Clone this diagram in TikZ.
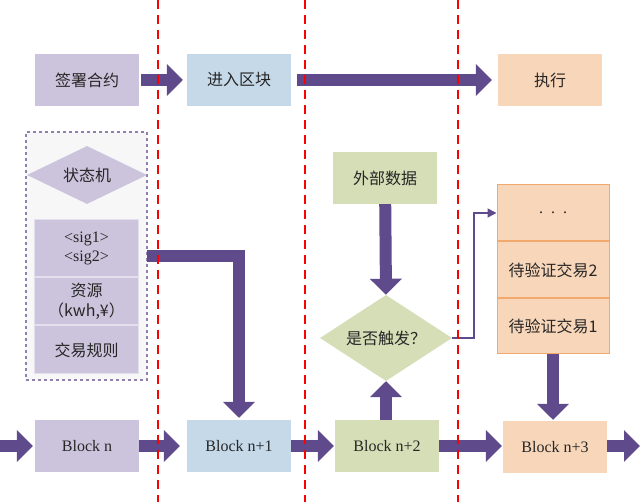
\documentclass[tikz,border=0pt]{standalone}
\usepackage{fontspec}
\setmainfont{Liberation Serif}
\newfontfamily\cjk{Noto Sans CJK SC}
\usetikzlibrary{arrows.meta,shapes.geometric,positioning}
\definecolor{lilac}{HTML}{CCC4DC}
\definecolor{skyblue}{HTML}{C5D9E9}
\definecolor{sage}{HTML}{D5DEB6}
\definecolor{peach}{HTML}{F8D6B9}
\definecolor{peachline}{HTML}{F2A96E}
\definecolor{arrowpurple}{HTML}{5F4A8B}
\definecolor{txt}{HTML}{262626}
\tikzset{
  box/.style={minimum width=104pt, minimum height=52pt, inner sep=0pt, text=txt,
    font=\fontsize{16}{19}\selectfont, align=center},
  zh/.style={font=\fontsize{16}{20}\selectfont\cjk},
  cell/.style={box, minimum height=#1, line width=1pt},
  bigarrow/.style={line width=12pt, draw=arrowpurple, -{Triangle[width=31pt,length=16pt]}},
  thinarrow/.style={line width=1.5pt, draw=arrowpurple, -{Triangle[width=9pt,length=9pt]}},
  lane/.style={draw=red, line width=1.5pt, dash pattern=on 9pt off 6pt}
}
\begin{document}
\begin{tikzpicture}[x=1pt, y=-1pt]
\fill[white] (0,0) rectangle (640,502);
\useasboundingbox (0,0) rectangle (640,502);

% top row
\node[box, zh, fill=lilac] (sign) at (87,80) {签署合约};
\node[box, zh, fill=skyblue] (enter) at (239,80) {进入区块};
\node[box, zh, fill=peach] (exec) at (550,80) {执行};

% state machine
\node[draw=arrowpurple!70, dashed, line width=1.2pt, fill=black!3, minimum width=121pt, minimum height=248pt] (sm) at (86.5,256) {};
\node[diamond, fill=lilac, minimum width=120pt, minimum height=58pt, inner sep=0pt, aspect=2, text=txt, zh] (fsm) at (87,175) {状态机};
\node[cell=57pt, fill=lilac, draw=lilac!55!white] (sig) at (86.5,248.5) {<sig1>\\<sig2>};
\node[cell=47pt, zh, fill=lilac, draw=lilac!55!white, below=0pt of sig] (res) {资源\\（kwh,¥）};
\node[cell=48pt, zh, fill=lilac, draw=lilac!55!white, below=0pt of res] (rule) {交易规则};
\coordinate (sigout) at (147,256);

% trigger
\node[box, zh, fill=sage] (ext) at (385,178) {外部数据};
\node[diamond, fill=sage, minimum width=132pt, minimum height=86pt, inner sep=0pt, aspect=2, text=txt, zh] (trig) at (386,338) {是否触发？};
\coordinate (bend) at (474,338);

% pending transactions
\node[cell=56pt, minimum width=112pt, fill=peach, draw=peachline] (dots) at (553,213) {.\ \ .\ \ .};
\node[cell=56pt, zh, minimum width=112pt, fill=peach, draw=peachline, below=0pt of dots] (tx2) {待验证交易2};
\node[cell=55pt, zh, minimum width=112pt, fill=peach, draw=peachline, below=0pt of tx2] (tx1) {待验证交易1};

% chain
\coordinate (chainin) at (0,446);
\node[box, fill=lilac] (bn) at (87,446) {Block n};
\node[box, fill=skyblue] (bn1) at (239,446) {Block n+1};
\node[box, fill=sage] (bn2) at (387,446) {Block n+2};
\node[box, fill=peach] (bn3) at (555,447) {Block n+3};
\coordinate (chainout) at (640,446);

\draw[bigarrow, shorten >=2pt] (chainin) -- (bn.west);
\draw[bigarrow, shorten >=7pt] (bn) -- (bn1);
\draw[bigarrow, shorten >=1pt] (bn1) -- (bn2);
\draw[bigarrow, shorten >=1pt] (bn2.east) -- (bn3.west |- bn2.east);
\draw[bigarrow] (bn3.east |- chainout) -- (chainout);

\draw[bigarrow, shorten <=2pt, shorten >=4pt] (sign) -- (enter);
\draw[bigarrow, shorten <=6pt, shorten >=6pt] (enter) -- (exec);
\draw[bigarrow, shorten >=2pt] (sigout) -| (bn1.north);
\draw[bigarrow] (ext) -- (trig.north);
\draw[bigarrow] (bn2.north -| trig.south) -- (trig.south);
\draw[bigarrow, shorten >=1pt] (tx1.south) -- (tx1.south |- bn3.north);
\draw[thinarrow] (trig.east) -- (bend) |- (dots.west);

% lanes
\foreach \lx in {158,305,458}
  \draw[lane] (\lx,0) -- (\lx,502);
\end{tikzpicture}
\end{document}
